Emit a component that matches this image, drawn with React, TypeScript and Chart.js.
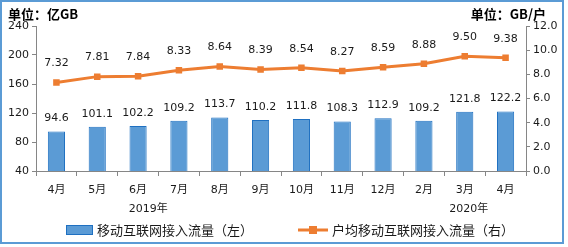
import React, { useEffect, useRef } from "react";
import { Chart, registerables } from "chart.js";

Chart.register(...registerables);

const categories = ["4月", "5月", "6月", "7月", "8月", "9月", "10月", "11月", "12月", "2月", "3月", "4月"];
const trafficValues = [94.6, 101.1, 102.2, 109.2, 113.7, 110.2, 111.8, 108.3, 112.9, 109.2, 121.8, 122.2];
const perUserValues = [7.32, 7.81, 7.84, 8.33, 8.64, 8.39, 8.54, 8.27, 8.59, 8.88, 9.5, 9.38];
const yearLabels = [
  { text: "2019年", at: 2.25 },
  { text: "2020年", at: 10.1 },
];
const seriesNames = ["移动互联网接入流量（左）", "户均移动互联网接入流量（右）"];
const leftTitle = "单位：亿GB";
const rightTitle = "单位：GB/户";

const BAR_FILL = "#5B9BD5";
const BAR_BORDER = "#1F70C1";
const LINE = "#ED7D31";
const AXIS = "#868686";
const TEXT = "#1a1a1a";
const FONT = "'DejaVu Sans', 'Noto Sans CJK SC', sans-serif";
const CJK = "'Noto Sans CJK SC', 'DejaVu Sans', sans-serif";

const decorPlugin = {
  id: "decor",
  afterDraw(chart: any) {
    const ctx = chart.ctx;
    ctx.save();
    // border
    ctx.strokeStyle = BAR_FILL;
    ctx.lineWidth = 2;
    ctx.strokeRect(1, 1, 562, 242);

    // titles
    ctx.fillStyle = "#000";
    ctx.font = `bold 13px ${CJK}`;
    ctx.textBaseline = "middle";
    ctx.textAlign = "left";
    ctx.fillText(leftTitle, 8, 14);
    ctx.textAlign = "right";
    ctx.fillText(rightTitle, 546, 14);

    // data labels
    ctx.fillStyle = TEXT;
    ctx.font = `11px ${FONT}`;
    ctx.textAlign = "center";
    ctx.textBaseline = "middle";
    const barMeta = chart.getDatasetMeta(0);
    barMeta.data.forEach((el: any, i: number) => {
      ctx.fillText(trafficValues[i].toFixed(1), el.x, el.y - 13);
    });
    const lineMeta = chart.getDatasetMeta(1);
    lineMeta.data.forEach((el: any, i: number) => {
      ctx.fillText(perUserValues[i].toFixed(2), el.x, el.y - 19);
    });

    // year labels
    const xs = chart.scales.x;
    yearLabels.forEach((y) => {
      ctx.fillText(y.text, xs.getPixelForValue(y.at), 209);
    });

    // legend
    const ly = 230;
    ctx.fillStyle = BAR_FILL;
    ctx.fillRect(66, ly - 5, 27, 10);
    ctx.strokeStyle = BAR_BORDER;
    ctx.lineWidth = 1;
    ctx.strokeRect(66.5, ly - 4.5, 26, 9);
    ctx.fillStyle = TEXT;
    ctx.font = `13px ${CJK}`;
    ctx.textAlign = "left";
    ctx.fillText(seriesNames[0], 97, ly);

    ctx.strokeStyle = LINE;
    ctx.lineWidth = 3;
    ctx.beginPath();
    ctx.moveTo(298, ly);
    ctx.lineTo(328, ly);
    ctx.stroke();
    ctx.fillStyle = LINE;
    ctx.fillRect(309, ly - 4, 8, 8);
    ctx.fillStyle = TEXT;
    ctx.fillText(seriesNames[1], 332, ly);
    ctx.restore();
  },
};

export default function App() {
  const ref = useRef<HTMLCanvasElement>(null);
  useEffect(() => {
    document.body.style.margin = "0";
    const chart = new Chart(ref.current!, {
      type: "bar",
      data: {
        labels: categories,
        datasets: [
          {
            type: "bar",
            label: seriesNames[0],
            data: trafficValues,
            backgroundColor: BAR_FILL,
            borderColor: BAR_BORDER,
            borderWidth: 1,
            categoryPercentage: 1,
            barPercentage: 0.42,
            yAxisID: "y",
            order: 1,
          },
          {
            type: "line",
            label: seriesNames[1],
            data: perUserValues,
            borderColor: LINE,
            backgroundColor: LINE,
            borderWidth: 3,
            pointStyle: "rect",
            pointRadius: 4.6,
            pointBorderWidth: 0,
            yAxisID: "y1",
            order: 0,
          } as any,
        ],
      },
      options: {
        responsive: false,
        animation: false,
        devicePixelRatio: 1,
        layout: { padding: { top: 26, left: 0, right: 0, bottom: 0 } },
        plugins: { legend: { display: false }, tooltip: { enabled: false } },
        scales: {
          x: {
            type: "category",
            offset: true,
            grid: { display: true, drawOnChartArea: false, drawTicks: true, tickLength: 5, color: AXIS, offset: true },
            border: { color: AXIS },
            ticks: { color: TEXT, font: { size: 11, family: FONT }, padding: 8, maxRotation: 0, autoSkip: false },
            afterFit: (s: any) => { s.height = 76; },
          },
          y: {
            position: "left",
            min: 40,
            max: 240,
            ticks: { stepSize: 40, color: TEXT, font: { size: 11, family: FONT }, padding: 3 },
            grid: { display: true, drawOnChartArea: false, drawTicks: true, tickLength: 4, color: AXIS },
            border: { color: AXIS },
            afterFit: (s: any) => { s.width = 36; },
          },
          y1: {
            position: "right",
            min: 0,
            max: 12,
            ticks: { stepSize: 2, color: TEXT, font: { size: 11, family: FONT }, padding: 3, callback: (v: any) => Number(v).toFixed(1) },
            grid: { display: true, drawOnChartArea: false, drawTicks: true, tickLength: 4, color: AXIS },
            border: { color: AXIS },
            afterFit: (s: any) => { s.width = 42; },
          },
        },
      },
      plugins: [decorPlugin],
    });
    return () => chart.destroy();
  }, []);
  return <canvas ref={ref} width={568} height={247} style={{ display: "block" }} />;
}
